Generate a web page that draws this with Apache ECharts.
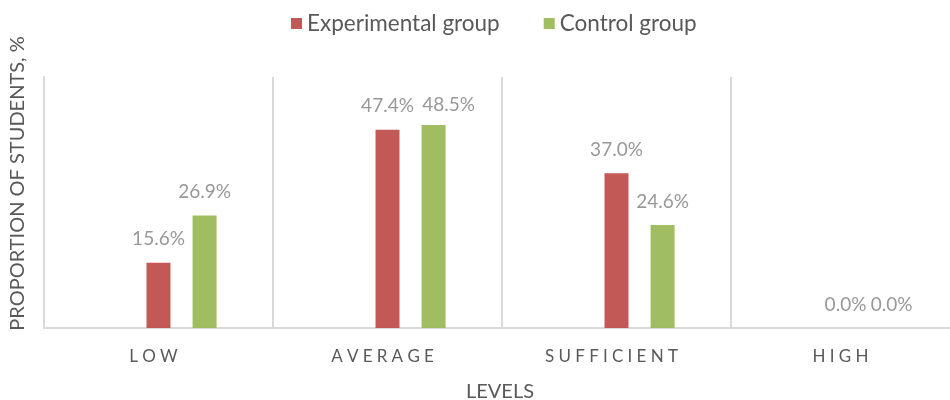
<!DOCTYPE html>
<html>
<head>
<meta charset="utf-8">
<script src="https://cdn.jsdelivr.net/npm/echarts@6/dist/echarts.min.js"></script>
<style>html,body{margin:0;padding:0;background:#fff}#c{width:950px;height:400px}</style>
</head>
<body>
<div id="c"></div>
<script>
const categories = ['LOW', 'AVERAGE', 'SUFFICIENT', 'HIGH'];
const experimental = [15.6, 47.4, 37.0, 0.0];
const control = [26.9, 48.5, 24.6, 0.0];
const seriesNames = ['Experimental group', 'Control group'];

const chart = echarts.init(document.getElementById('c'));
const font = 'Lato, "Open Sans", sans-serif';
const labelCfg = {
  show: true, position: 'top', distance: 14,
  formatter: p => p.value.toFixed(1) + '%',
  color: '#929292', fontSize: 19, fontFamily: font
};
function withLabelShift(values, shifts) {
  return values.map((v, i) => shifts[i] ? { value: v, label: { offset: shifts[i] } } : v);
}
chart.setOption({
  animation: false,
  textStyle: { fontFamily: font },
  legend: {
    top: 7, left: 286, itemWidth: 11, itemHeight: 11, itemGap: 44,
    icon: 'rect',
    data: seriesNames,
    textStyle: { color: '#595959', fontSize: 22.5, fontFamily: font }
  },
  grid: { left: 44, right: -10, top: 77, bottom: 72, outerBoundsMode: 'none', containLabel: false },
  xAxis: {
    type: 'category', data: categories,
    name: 'LEVELS', nameLocation: 'middle', nameGap: 54,
    nameTextStyle: { color: '#595959', fontSize: 20, fontFamily: font, padding: [0, 4, 0, 0] },
    axisLine: { lineStyle: { color: '#d9d9d9', width: 2 } },
    axisTick: { show: false },
    splitLine: { show: true, lineStyle: { color: '#d9d9d9', width: 2 } },
    axisLabel: {
      margin: 20, color: '#595959', fontSize: 17, fontFamily: font, padding: [0, 10, 0, 0],
      formatter: v => v.split('').join('\u2009\u2009')
    }
  },
  yAxis: {
    type: 'value', min: 0, max: 60,
    name: 'PROPORTION OF STUDENTS, %', nameLocation: 'middle', nameGap: 16,
    nameTextStyle: { color: '#595959', fontSize: 20, fontFamily: font, padding: [0, 0, 0, 38] },
    axisLine: { show: true, lineStyle: { color: '#d9d9d9', width: 2 } },
    axisLabel: { show: false },
    axisTick: { show: false },
    splitLine: { show: false }
  },
  series: [
    { type: 'bar', name: 'blank', data: ['-', '-', '-', '-'], barWidth: 24, barGap: '92%', barCategoryGap: '49%' },
    { type: 'bar', name: seriesNames[0], data: experimental, barWidth: 24, barGap: '92%',
      itemStyle: { color: '#c0504d', opacity: 0.95 }, label: labelCfg },
    { type: 'bar', name: seriesNames[1], data: withLabelShift(control, [null, [15, 3], null, null]), barWidth: 24, barGap: '92%',
      itemStyle: { color: '#9bbb59', opacity: 0.95 }, label: labelCfg }
  ]
});
</script>
</body>
</html>
